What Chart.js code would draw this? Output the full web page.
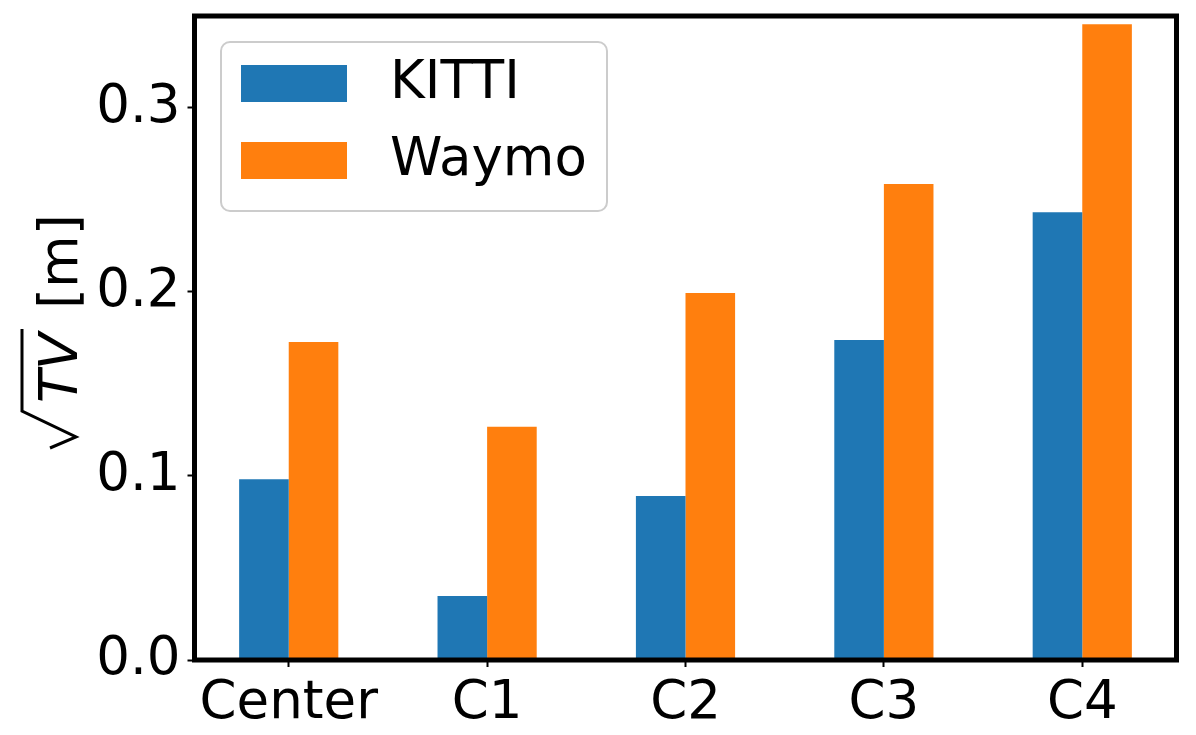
<!DOCTYPE html>
<html lang="en">
<head>
    <meta charset="UTF-8">
    <title>sqrt(TV) per camera</title>
    <script src="https://cdn.jsdelivr.net/npm/chart.js"></script>
    <style>
        body { margin: 0; background: #fff; }
        canvas { display: block; }
    </style>
</head>
<body>
    <canvas id="chart" width="1196" height="735"></canvas>

    <script>
        // data
        const categories = ["Center", "C1", "C2", "C3", "C4"];
        const kittiValues = [0.0982, 0.0348, 0.0891, 0.1739, 0.2433];
        const waymoValues = [0.1728, 0.1268, 0.1995, 0.2587, 0.3455];
        const yTicks = [0.0, 0.1, 0.2, 0.3];

        const FONT = '"DejaVu Sans", sans-serif';
        const FONT_SIZE = 53;

        // black box around the plot area (matplotlib spines)
        const framePlugin = {
            id: "frame",
            afterDatasetsDraw(chart) {
                const { ctx, chartArea: a } = chart;
                ctx.save();
                ctx.strokeStyle = "#000";
                ctx.lineWidth = 5;
                ctx.strokeRect(a.left, a.top, a.right - a.left, a.bottom - a.top);
                ctx.restore();
            }
        };

        // legend inside the axes, upper left
        const legendPlugin = {
            id: "boxLegend",
            afterDraw(chart) {
                const ctx = chart.ctx;
                ctx.save();
                ctx.beginPath();
                ctx.roundRect(221, 42, 386, 169, 9);
                ctx.fillStyle = "rgba(255,255,255,0.8)";
                ctx.fill();
                ctx.strokeStyle = "#cccccc";
                ctx.lineWidth = 2;
                ctx.stroke();
                chart.data.datasets.forEach((ds, i) => {
                    const y = 65 + i * 77;
                    ctx.fillStyle = ds.backgroundColor;
                    ctx.fillRect(241, y, 106, 37);
                    ctx.fillStyle = "#000";
                    ctx.font = FONT_SIZE + "px " + FONT;
                    ctx.textBaseline = "middle";
                    ctx.fillText(ds.label, 390, y + 19);
                });
                ctx.restore();
            }
        };

        // rotated y label: sqrt(TV) [m]
        const yLabelPlugin = {
            id: "yLabel",
            afterDraw(chart) {
                const { ctx, chartArea: a } = chart;
                ctx.save();
                ctx.translate(77, (a.top + a.bottom) / 2 + 117);
                ctx.rotate(-Math.PI / 2);
                ctx.strokeStyle = "#000";
                ctx.lineWidth = 3;
                ctx.beginPath();
                ctx.moveTo(7, -27);
                ctx.lineTo(18, -1);
                ctx.lineTo(44, -55);
                ctx.lineTo(126, -55);
                ctx.stroke();
                ctx.fillStyle = "#000";
                ctx.textBaseline = "alphabetic";
                ctx.font = "italic 54px " + FONT;
                ctx.fillText("TV", 52, 0);
                ctx.font = "54px " + FONT;
                ctx.fillText("[m]", 146, 0);
                ctx.restore();
            }
        };

        new Chart(document.getElementById("chart"), {
            type: "bar",
            data: {
                datasets: [
                    {
                        label: "KITTI",
                        data: kittiValues.map((v, i) => ({ x: i, y: v })),
                        backgroundColor: "#1f77b4"
                    },
                    {
                        label: "Waymo",
                        data: waymoValues.map((v, i) => ({ x: i, y: v })),
                        backgroundColor: "#ff7f0e"
                    }
                ]
            },
            options: {
                responsive: false,
                animation: false,
                categoryPercentage: 0.5,
                barPercentage: 1.0,
                layout: { padding: { top: 16, right: 19.5, left: 0, bottom: 0 } },
                plugins: {
                    legend: { display: false },
                    tooltip: { enabled: false }
                },
                scales: {
                    x: {
                        type: "linear",
                        min: -0.475,
                        max: 4.475,
                        offset: false,
                        afterBuildTicks: s => { s.ticks = categories.map((_, i) => ({ value: i })); },
                        afterFit: s => {
                            s.height = 75;
                            s.paddingLeft = 0;
                            s.paddingRight = 0;
                        },
                        border: { display: false },
                        grid: {
                            offset: false,
                            drawOnChartArea: false,
                            tickLength: 7,
                            tickWidth: 2,
                            tickColor: "#000"
                        },
                        ticks: {
                            callback: v => categories[v],
                            color: "#000",
                            font: { family: FONT, size: FONT_SIZE },
                            padding: 5,
                            maxRotation: 0,
                            autoSkip: false
                        }
                    },
                    y: {
                        min: 0,
                        max: 0.35,
                        afterBuildTicks: s => { s.ticks = yTicks.map(v => ({ value: v })); },
                        afterFit: s => {
                            s.width = 194.5;
                            s.paddingTop = 0;
                            s.paddingBottom = 0;
                        },
                        border: { display: false },
                        grid: {
                            drawOnChartArea: false,
                            tickLength: 7,
                            tickWidth: 2,
                            tickColor: "#000"
                        },
                        ticks: {
                            callback: v => v.toFixed(1),
                            color: "#000",
                            font: { family: FONT, size: FONT_SIZE },
                            padding: 7
                        }
                    }
                }
            },
            plugins: [framePlugin, legendPlugin, yLabelPlugin]
        });
    </script>
</body>
</html>
